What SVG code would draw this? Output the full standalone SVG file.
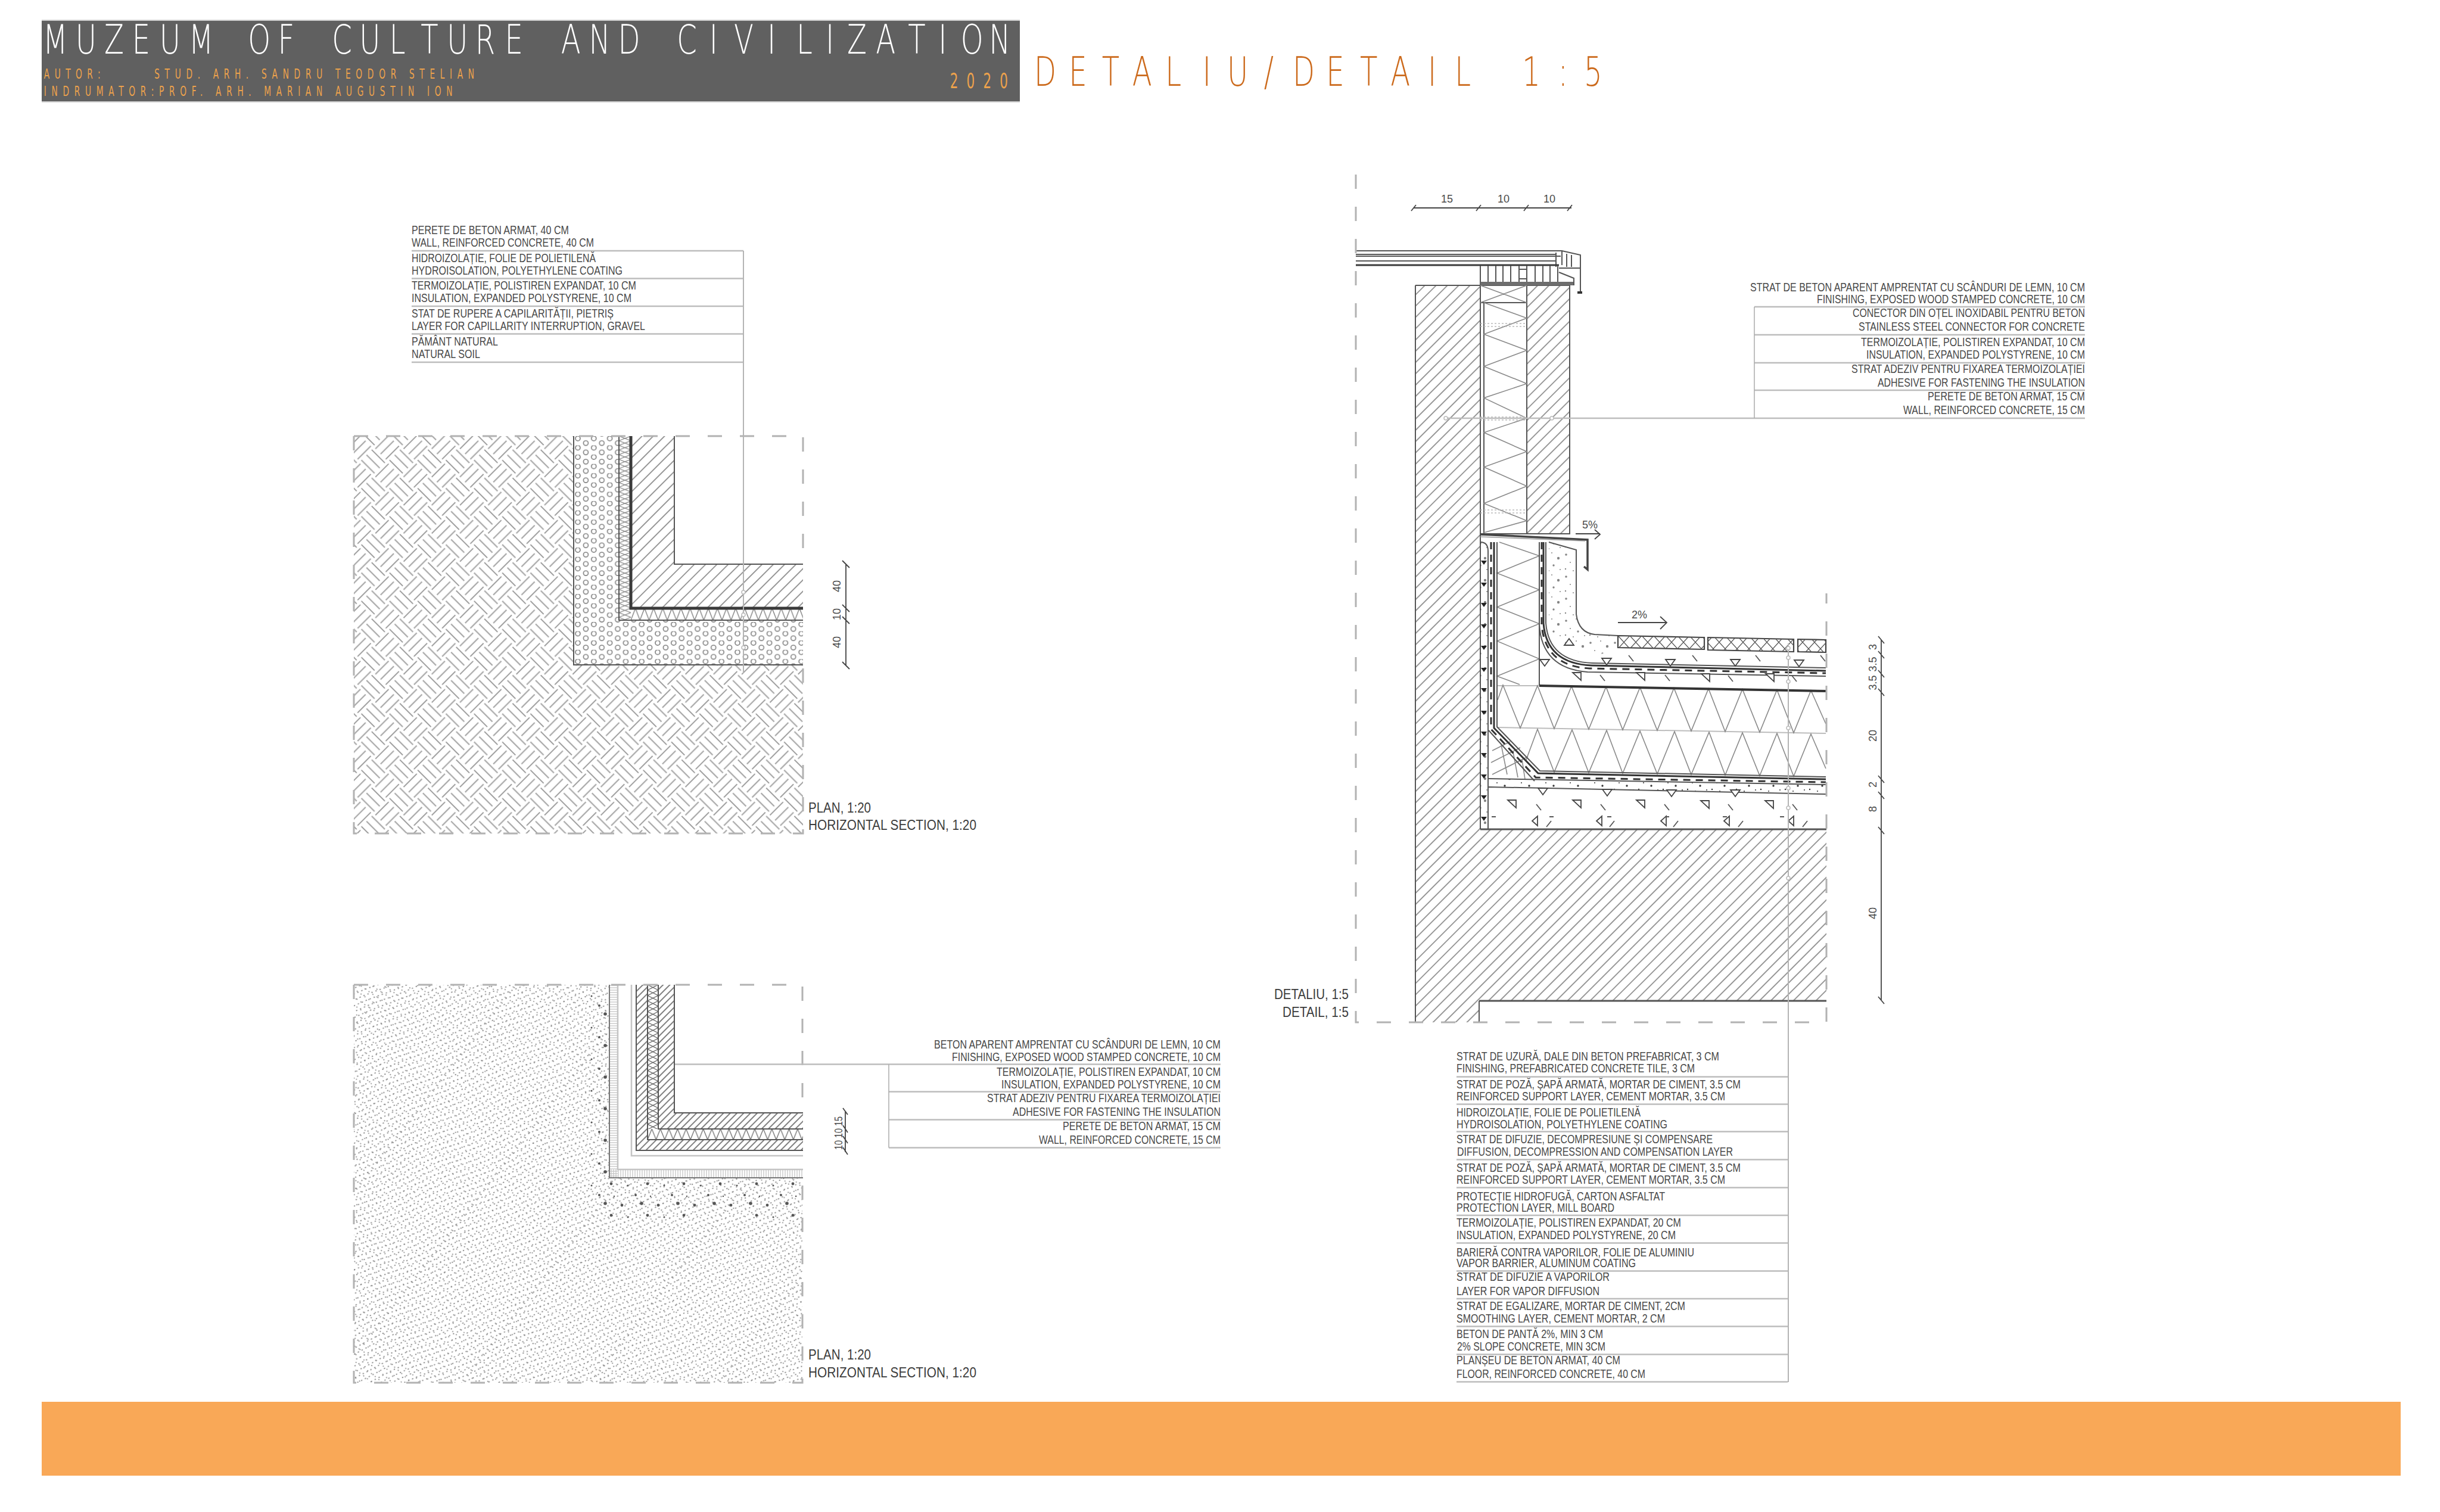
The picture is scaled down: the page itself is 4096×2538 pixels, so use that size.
<svg xmlns="http://www.w3.org/2000/svg" width="4096" height="2538" viewBox="0 0 4096 2538">
<style>
.t{font-family:"Liberation Sans",Arial,sans-serif;font-size:20px;fill:#484848}
.r{text-anchor:end}
.d{font-family:"Liberation Sans",Arial,sans-serif;font-size:18px;fill:#4a4a4a;text-anchor:middle}
.l{font-family:"Liberation Sans",Arial,sans-serif;font-size:23px;fill:#3c3c3c}
.hd{font-family:"DejaVu Sans",sans-serif;font-weight:200;font-size:67px}
.or{font-family:"DejaVu Sans",sans-serif;font-weight:400;fill:#eda24c}
.lead{stroke:#b4b4b4;stroke-width:2;fill:none}
.tab{stroke:#bdbdbd;stroke-width:2.5;fill:none}
.thin{stroke:#aaa;stroke-width:1.5;fill:none}
.frame{stroke:#b2b2b2;stroke-width:3;fill:none;stroke-dasharray:24 30}
.ln{stroke:#555;stroke-width:2;fill:none}
.hv{stroke:#555;stroke-width:3;fill:none}
.dl{stroke:#444;stroke-width:1.8;fill:none}
.gz{stroke:#8a8a8a;stroke-width:1.6;fill:none}
.dz{stroke:#666;stroke-width:1.5;fill:none}
.sym{stroke:#444;stroke-width:1.8;fill:#fff}
.tk{stroke:#555;stroke-width:1.8;fill:none}
.dsh{stroke:#333;stroke-width:3;fill:none;stroke-dasharray:12 9}
.dot{stroke:#bbb;stroke-width:1.5;fill:#fff}
</style>
<defs>
<pattern id="soil" width="66.9" height="66.9" patternUnits="userSpaceOnUse" patternTransform="translate(650 727.35) rotate(45)">
<path d="M4.4 1V32.4M16.7 1V32.4M29 1V32.4M37.9 34.5V65.9M50.2 34.5V65.9M62.5 34.5V65.9M34.5 4.4H65.9M34.5 16.7H65.9M34.5 29H65.9M1 37.9H32.4M1 50.2H32.4M1 62.5H32.4" stroke="#a0a0a0" stroke-width="2" fill="none"/>
</pattern>
<pattern id="gravel" width="26.8" height="15.6" patternUnits="userSpaceOnUse" patternTransform="translate(970 732)">
<g fill="none" stroke="#858585" stroke-width="1.7"><circle cx="0" cy="4" r="4"/><circle cx="26.8" cy="4" r="4"/><circle cx="13.4" cy="11.8" r="4"/><circle cx="13.4" cy="-3.8" r="4"/></g>
</pattern>
<pattern id="h13" width="13.4" height="13.4" patternUnits="userSpaceOnUse" patternTransform="rotate(-45)"><path d="M0 6.7H13.4" stroke="#787878" stroke-width="1.5"/></pattern>
<pattern id="h8" width="8" height="8" patternUnits="userSpaceOnUse" patternTransform="rotate(-45)"><path d="M0 4H8" stroke="#555" stroke-width="1.5"/></pattern>
<pattern id="zzv1" x="1039" y="732" width="20" height="15.6" patternUnits="userSpaceOnUse"><path d="M0 0L20 7.8L0 15.6M20 0L0 7.8L20 15.6" stroke="#888" stroke-width="1.3" fill="none"/></pattern>
<pattern id="zzh1" x="1059" y="1021" width="15.3" height="20" patternUnits="userSpaceOnUse"><path d="M0 20L7.65 0L15.3 20" stroke="#888" stroke-width="1.5" fill="none"/></pattern>
<pattern id="zzv2" x="1087" y="1653" width="18" height="18" patternUnits="userSpaceOnUse"><path d="M0 0L18 9L0 18M18 0L0 9L18 18" stroke="#666" stroke-width="1.3" fill="none"/></pattern>
<pattern id="zzh2" x="1087" y="1895" width="14.4" height="18" patternUnits="userSpaceOnUse"><path d="M0 18L7.2 0L14.4 18" stroke="#777" stroke-width="1.4" fill="none"/></pattern>
<pattern id="fh" width="4" height="4" patternUnits="userSpaceOnUse"><path d="M0 2H4" stroke="#c4c4c4" stroke-width="1.3"/></pattern>
<pattern id="fv" width="4" height="4" patternUnits="userSpaceOnUse"><path d="M2 0V4" stroke="#c4c4c4" stroke-width="1.3"/></pattern>
<pattern id="st1" width="180" height="81" patternUnits="userSpaceOnUse" patternTransform="rotate(-24)"><path d="M0 4Q45 0 90 4T180 4M0 13Q45 9 90 13T180 13M0 22Q45 18 90 22T180 22M0 31Q45 27 90 31T180 31M0 40Q45 36 90 40T180 40M0 49Q45 45 90 49T180 49M0 58Q45 54 90 58T180 58M0 67Q45 63 90 67T180 67M0 76Q45 72 90 76T180 76" stroke="#808080" stroke-width="1.7" stroke-dasharray="2.2 5" fill="none"/></pattern>
<pattern id="st2" width="170" height="99" patternUnits="userSpaceOnUse" patternTransform="rotate(38)"><path d="M0 5Q42 1 85 5T170 5M0 16Q42 12 85 16T170 16M0 27Q42 23 85 27T170 27M0 38Q42 34 85 38T170 38M0 49Q42 45 85 49T170 49M0 60Q42 56 85 60T170 60M0 71Q42 67 85 71T170 71M0 82Q42 78 85 82T170 82M0 93Q42 89 85 93T170 93" stroke="#888" stroke-width="1.6" stroke-dasharray="2 6" fill="none"/></pattern>
<pattern id="spk" width="61" height="53" patternUnits="userSpaceOnUse"><g fill="#555"><circle cx="7" cy="9" r="2.4"/><circle cx="40" cy="6" r="2.8"/><circle cx="17" cy="29" r="1.5"/><circle cx="50" cy="26" r="2.4"/><circle cx="30" cy="45" r="2"/><circle cx="55" cy="47" r="1.2"/></g></pattern>
<pattern id="spk2" width="41" height="37" patternUnits="userSpaceOnUse"><g fill="#333"><circle cx="5" cy="6" r="1.8"/><circle cx="22" cy="3" r="1"/><circle cx="33" cy="12" r="2.2"/><circle cx="12" cy="19" r="1"/><circle cx="25" cy="24" r="1.7"/><circle cx="4" cy="30" r="1.2"/><circle cx="36" cy="31" r="1"/><circle cx="17" cy="33" r="1"/></g></pattern>
<pattern id="tile" x="2716" y="1067" width="20" height="22" patternUnits="userSpaceOnUse"><path d="M0 0L20 22M20 0L0 22" stroke="#555" stroke-width="1.3"/></pattern>
<path id="tr" d="M-8 -5H8L0 6Z"/>
<path id="tq" d="M-8 -6H6L6 7Z"/>
<path id="tl" d="M4 -8V8L-5 0Z"/>
<path id="tick" d="M-4 -5L4 5"/>
<path id="tk2" d="M4 -5L-4 5"/>
<path id="bl" d="M-5 -3H5L0 4Z"/>
</defs>
<rect width="4096" height="2538" fill="#fff"/>

<g id="title-block">
<rect x="70" y="34" width="1642" height="137" fill="#606060"/>
<path d="M70 34H1712M70 171H1712" stroke="#cfcfcf" stroke-width="2"/>
<text class="hd" fill="#fff" transform="scale(.72 1)" y="90" x="100 176 243 308 372 440 514 578 648 694 774 838 908 981 1042 1108 1177 1208 1308 1373 1441 1514 1578 1654 1711 1789 1857 1925 1975 2042 2117 2188 2240 2306">MUZEUM OF CULTURE AND CIVILIZATION</text>
<text class="or" font-size="23" transform="scale(.6 1)" x="123" y="132" textLength="158" lengthAdjust="spacing">AUTOR:</text>
<text class="or" font-size="23" transform="scale(.6 1)" x="432" y="132" textLength="895" lengthAdjust="spacing">STUD. ARH. SANDRU TEODOR STELIAN</text>
<text class="or" font-size="23" transform="scale(.6 1)" x="123" y="161" textLength="1143" lengthAdjust="spacing">INDRUMATOR:PROF. ARH. MARIAN AUGUSTIN ION</text>
<text class="or" font-size="36" transform="scale(.6 1)" x="2658" y="148" textLength="162" lengthAdjust="spacing">2020</text>
</g>

<g id="heading">
<text class="hd" fill="#cc6a1c" transform="scale(.72 1)" y="144" x="2411 2492 2569 2640 2717 2804 2861 2947 3014 3092 3171 3242 3329 3392 3470 3549 3633 3693">DETALIU/DETAIL 1:5</text>
</g>

<g id="plan-1">
<rect x="594" y="732" width="754" height="667" fill="url(#soil)"/>
<rect x="963" y="732" width="385" height="384" fill="#fff"/>
<rect x="963" y="732" width="385" height="384" fill="url(#gravel)"/>
<path d="M1039 732H1348V1041H1039Z" fill="#fff"/>
<rect x="1039" y="732" width="20" height="309" fill="url(#zzv1)"/>
<rect x="1059" y="1021" width="289" height="20" fill="url(#zzh1)"/>
<path d="M1059 732H1132V947H1348V1021H1059Z" fill="url(#h13)"/>
<path class="ln" d="M963 732V1116H1348M1039 732V1041H1348M1132 732V947H1348"/>
<path d="M1059 732V1021H1348" stroke="#3a3a3a" stroke-width="5" fill="none"/>
<path class="frame" d="M594 732H1348V925M594 732V1399H1348V1116"/>
<path class="dl" d="M1420 947V1117M1414 941L1426 953M1414 1015L1426 1027M1414 1035L1426 1047M1414 1111L1426 1123"/>
<text class="d" transform="translate(1411 984) rotate(-90)">40</text>
<text class="d" transform="translate(1411 1031) rotate(-90)">10</text>
<text class="d" transform="translate(1411 1078) rotate(-90)">40</text>
<text class="l" x="1357" y="1364" textLength="105" lengthAdjust="spacingAndGlyphs">PLAN, 1:20</text>
<text class="l" x="1357" y="1393" textLength="282" lengthAdjust="spacingAndGlyphs">HORIZONTAL SECTION, 1:20</text>
</g>

<g id="plan-1-legend">
<path class="tab" d="M691 421H1248M691 467.500H1248M691 514H1248M691 560.500H1248M691 608H1248"/>
<text class="t" x="691" y="393" textLength="264" lengthAdjust="spacingAndGlyphs">PERETE DE BETON ARMAT, 40 CM</text>
<text class="t" x="691" y="414" textLength="306" lengthAdjust="spacingAndGlyphs">WALL, REINFORCED CONCRETE, 40 CM</text>
<text class="t" x="691" y="440" textLength="309" lengthAdjust="spacingAndGlyphs">HIDROIZOLAȚIE, FOLIE DE POLIETILENĂ</text>
<text class="t" x="691" y="461" textLength="354" lengthAdjust="spacingAndGlyphs">HYDROISOLATION, POLYETHYLENE COATING</text>
<text class="t" x="691" y="486" textLength="377" lengthAdjust="spacingAndGlyphs">TERMOIZOLAȚIE, POLISTIREN EXPANDAT, 10 CM</text>
<text class="t" x="691" y="507" textLength="369" lengthAdjust="spacingAndGlyphs">INSULATION, EXPANDED POLYSTYRENE, 10 CM</text>
<text class="t" x="691" y="533" textLength="339" lengthAdjust="spacingAndGlyphs">STAT DE RUPERE A CAPILARITĂȚII, PIETRIȘ</text>
<text class="t" x="691" y="554" textLength="392" lengthAdjust="spacingAndGlyphs">LAYER FOR CAPILLARITY INTERRUPTION, GRAVEL</text>
<text class="t" x="691" y="580" textLength="145" lengthAdjust="spacingAndGlyphs">PĂMÂNT NATURAL</text>
<text class="t" x="691" y="601" textLength="115" lengthAdjust="spacingAndGlyphs">NATURAL SOIL</text>
</g>

<g id="plan-2">
<path d="M594 1653H1022V1977H1347V2321H594Z" fill="url(#st1)"/>
<path d="M594 1653H1022V1977H1347V2321H594Z" fill="url(#st2)"/>
<path d="M985 1653H1022V1977H1347V2050L1200 2035L1030 2060L985 2020Z" fill="url(#spk)"/>
<rect x="1023" y="1653" width="14" height="324" fill="url(#fh)"/>
<rect x="1023" y="1963" width="325" height="14" fill="url(#fv)"/>
<path d="M1023 1653V1977H1348" stroke="#777" stroke-width="2" fill="none"/>
<path d="M1037 1653V1963H1348M1060 1653V1940H1348" stroke="#c4c4c4" stroke-width="2.5" fill="none"/>
<path d="M1068 1653H1132V1868H1348V1931H1068Z" fill="#fff"/>
<path d="M1068 1653H1087V1913H1348V1931H1068ZM1105 1653H1132V1868H1348V1895H1105Z" fill="url(#h8)"/>
<rect x="1087" y="1653" width="18" height="242" fill="url(#zzv2)"/>
<rect x="1087" y="1895" width="261" height="18" fill="url(#zzh2)"/>
<path class="ln" d="M1068 1653V1931H1348M1087 1653V1913H1348M1105 1653V1895H1348M1132 1653V1868H1348"/>
<path class="frame" d="M594 1653H1347V1868M594 1653V2321H1347V1977"/>
<path class="dl" d="M1419 1865V1934M1415 1860L1423 1871M1415 1889L1423 1901M1415 1907L1423 1919M1415 1926L1423 1938"/>
<text class="d" font-size="19" transform="translate(1414 1902) rotate(-90)" textLength="56" lengthAdjust="spacingAndGlyphs">10 10 15</text>
<text class="l" x="1357" y="2282" textLength="105" lengthAdjust="spacingAndGlyphs">PLAN, 1:20</text>
<text class="l" x="1357" y="2312" textLength="282" lengthAdjust="spacingAndGlyphs">HORIZONTAL SECTION, 1:20</text>
</g>

<g id="plan-2-legend" transform="translate(0 1.500)">
<path class="tab" d="M1133 1785H2049M1492 1831H2049M1492 1878H2049M1492 1925H2049"/>
<path class="thin" d="M1492 1785V1925"/>
<text class="t r" x="2049" y="1758" textLength="481" lengthAdjust="spacingAndGlyphs">BETON APARENT AMPRENTAT CU SCÂNDURI DE LEMN, 10 CM</text>
<text class="t r" x="2049" y="1779" textLength="451" lengthAdjust="spacingAndGlyphs">FINISHING, EXPOSED WOOD STAMPED CONCRETE, 10 CM</text>
<text class="t r" x="2049" y="1804" textLength="376" lengthAdjust="spacingAndGlyphs">TERMOIZOLAȚIE, POLISTIREN EXPANDAT, 10 CM</text>
<text class="t r" x="2049" y="1825" textLength="368" lengthAdjust="spacingAndGlyphs">INSULATION, EXPANDED POLYSTYRENE, 10 CM</text>
<text class="t r" x="2049" y="1848" textLength="392" lengthAdjust="spacingAndGlyphs">STRAT ADEZIV PENTRU FIXAREA TERMOIZOLAȚIEI</text>
<text class="t r" x="2049" y="1871" textLength="349" lengthAdjust="spacingAndGlyphs">ADHESIVE FOR FASTENING THE INSULATION</text>
<text class="t r" x="2049" y="1895" textLength="265" lengthAdjust="spacingAndGlyphs">PERETE DE BETON ARMAT, 15 CM</text>
<text class="t r" x="2049" y="1918" textLength="305" lengthAdjust="spacingAndGlyphs">WALL, REINFORCED CONCRETE, 15 CM</text>
</g>

<g id="detail">
<path d="M2376 479H2485V1392H3066V1680H2483V1716H2376Z" fill="url(#h13)"/>
<rect x="2563" y="479" width="72" height="417" fill="url(#h13)"/>
<path class="ln" d="M2376 479V1716M2376 479H2485V1392M2483 1680V1716M2485 479H2635V896H2485M2563 479V896M2491 508V896M2485 508H2563"/>
<path class="hv" d="M2485 1392H3066M2483 1680H3066"/>
<path class="gz" d="M2485 479L2563 508M2563 479L2485 508M2491 508L2563 534L2491 561L2563 588L2491 615L2563 644L2491 668L2563 702L2491 726L2563 758L2491 784L2563 816L2491 845L2563 874L2491 894"/>
<path class="dot" style="fill:none;stroke-dasharray:3 3" d="M2485 543H2563M2485 548H2563M2485 700H2563M2485 705H2563M2485 856H2563M2485 861H2563"/>
<path stroke="#555" stroke-width="2" fill="none" d="M2276 421H2622L2653 428V491M2276 427H2613M2276 430H2620M2276 438H2613M2612 424V448M2622 421V445M2630 426V448M2638 428V448M2617 450H2653"/>
<path d="M2276 445H2617" stroke="#3a3a3a" stroke-width="3"/>
<path d="M2648 491H2656" stroke="#333" stroke-width="4"/>
<path class="ln" d="M2485 446V479M2498 446V473M2511 446V473M2523 446V473M2536 446V473M2550 446V473M2563 446V473M2577 446V473M2590 446V473M2602 446V473M2615 446V473M2550 452H2563M2550 468H2563"/>
<path d="M2485 473H2642V479H2485Z" fill="#6e6e6e"/>
<path class="ln" d="M2617 457L2642 467V479"/>
<path class="dl" d="M2373 349H2638M2369 354L2377 344M2478 354L2486 344M2558 354L2566 344M2631 354L2639 344"/>
<text class="d" x="2429" y="340">15</text><text class="d" x="2524" y="340">10</text><text class="d" x="2601" y="340">10</text>
<path d="M2485 897L2665 906V956L2659 951" stroke="#444" stroke-width="3.500" fill="none"/>
<path d="M2485 901L2661 908" stroke="#999" stroke-width="1.500" fill="none"/>
<path class="dl" d="M2645 896H2686M2677 889L2686 897L2677 905"/>
<text class="d" x="2669" y="887">5%</text>
<rect x="2485" y="910" width="13" height="482" fill="url(#spk2)" opacity=".6"/>
<g class="sym" style="fill:#222;stroke:none"><use href="#bl" x="2491" y="944"/><use href="#bl" x="2491" y="981"/><use href="#bl" x="2491" y="1015"/><use href="#bl" x="2491" y="1051"/><use href="#bl" x="2491" y="1087"/><use href="#bl" x="2491" y="1124"/><use href="#bl" x="2491" y="1158"/><use href="#bl" x="2491" y="1196"/><use href="#bl" x="2491" y="1231"/><use href="#bl" x="2491" y="1267"/><use href="#bl" x="2491" y="1303"/><use href="#bl" x="2491" y="1338"/><use href="#bl" x="2491" y="1374"/></g>
<path class="ln" d="M2485 910Q2498 910 2498 925V1392"/>
<path class="gz" d="M2517 910L2584 933L2513 962L2584 990L2513 1019L2584 1047L2513 1076L2584 1106L2513 1135L2551 1149"/>
<path class="gz" d="M2505 1260L2535 1245M2503 1280L2552 1255M2505 1300L2565 1270M2520 1250L2530 1300M2540 1262L2548 1305M2555 1275L2560 1308"/>
<path d="M2600 910L2646 923V1031Q2650 1062 2677 1065L2716 1067V1090L2680 1100Q2610 1096 2600 1046Z" fill="url(#spk2)" opacity=".6"/>
<path class="ln" d="M2600 910L2646 923V1031Q2650 1062 2677 1065L2716 1067"/>
<path d="M2513 1151H2584M2513 1221L3065 1231" stroke="#bdbdbd" stroke-width="2" fill="none"/>
<path class="ln" d="M2584 910V1150"/>
<path class="gz" d="M2514 1175L2523 1150L2552 1222L2581 1151L2609 1223L2638 1152L2667 1224L2696 1153L2724 1225L2753 1154L2782 1226L2810 1155L2839 1227L2868 1156L2896 1228L2925 1157L2954 1229L2983 1158L3011 1230L3040 1159L3065 1215"/>
<path class="gz" d="M2561 1278L2581 1224L2609 1296L2639 1225L2667 1297L2697 1226L2724 1298L2753 1227L2782 1299L2811 1228L2839 1300L2869 1229L2896 1301L2925 1230L2954 1302L2983 1231L3011 1303L3040 1232L3065 1290"/>
<path d="M2584 1151L3065 1160" stroke="#333" stroke-width="4" fill="none"/>
<path class="ln" d="M2595 910V1046Q2600 1110 2673 1113L3065 1121"/>
<path d="M2591 910V1046Q2596 1114 2672 1117L3065 1126" stroke="#333" stroke-width="3" fill="none"/>
<path class="dsh" d="M2588 910V1048Q2593 1118 2668 1122L3065 1130"/>
<path class="ln" d="M2584 1048Q2588 1122 2665 1128L3065 1135"/>
<path class="ln" d="M2513 910V1220L2585 1294L3065 1304"/>
<path d="M2508 910V1222L2582 1298L3065 1308" stroke="#333" stroke-width="3" fill="none"/>
<path class="dsh" d="M2503 910V1224L2578 1305L3065 1313"/>
<path class="ln" d="M2499 1226L2576 1311"/>
<path d="M2499 1307L3065 1317V1333L2499 1321Z" fill="url(#spk2)"/>
<path class="ln" d="M2499 1307L3065 1317M2499 1321L3065 1333M2498 1321V1392"/>
<g fill="#fff" stroke="#444" stroke-width="2.200"><path d="M2716 1067L2861 1070V1090L2716 1087Z"/><path d="M2867 1070L3011 1073V1094L2867 1091Z"/><path d="M3018 1073L3065 1074V1095L3018 1094Z"/></g>
<g fill="url(#tile)"><path d="M2716 1067L2861 1070V1090L2716 1087Z"/><path d="M2867 1070L3011 1073V1094L2867 1091Z"/><path d="M3018 1073L3065 1074V1095L3018 1094Z"/></g>
<g class="sym"><use href="#tr" x="2593" y="1112"/><use href="#tr" x="2697" y="1110"/><use href="#tr" x="2804" y="1112"/><use href="#tr" x="2913" y="1112"/><use href="#tr" x="3020" y="1113"/><use href="#tr" transform="translate(2634 1078) rotate(180)"/>
<use href="#tq" x="2648" y="1135"/><use href="#tq" x="2755" y="1135"/><use href="#tq" x="2864" y="1137"/><use href="#tq" x="2972" y="1137"/>
<use href="#tr" x="2590" y="1328"/><use href="#tr" x="2698" y="1330"/><use href="#tr" x="2806" y="1331"/><use href="#tr" x="2913" y="1331"/>
<use href="#tq" x="2539" y="1349"/><use href="#tq" x="2648" y="1349"/><use href="#tq" x="2755" y="1349"/><use href="#tq" x="2863" y="1350"/><use href="#tq" x="2971" y="1350"/>
<use href="#tl" x="2577" y="1378"/><use href="#tl" x="2685" y="1378"/><use href="#tl" x="2793" y="1378"/><use href="#tl" x="2899" y="1378"/><use href="#tl" x="3007" y="1378"/></g>
<g class="tk"><use href="#tick" x="2690" y="1138"/><use href="#tick" x="2799" y="1138"/><use href="#tick" x="2905" y="1139"/><use href="#tick" x="3012" y="1139"/><use href="#tick" x="2738" y="1105"/><use href="#tick" x="2845" y="1105"/><use href="#tick" x="2951" y="1105"/><use href="#tick" x="3060" y="1105"/>
<use href="#tick" x="2583" y="1355"/><use href="#tick" x="2691" y="1355"/><use href="#tick" x="2798" y="1355"/><use href="#tick" x="2905" y="1355"/><use href="#tick" x="3013" y="1355"/>
<use href="#tk2" x="2600" y="1383"/><use href="#tk2" x="2706" y="1383"/><use href="#tk2" x="2813" y="1383"/><use href="#tk2" x="2922" y="1383"/><use href="#tk2" x="3030" y="1383"/>
<path d="M2504 1371h7M2601 1371h7M2698 1371h7M2795 1371h7M2892 1371h7M2988 1371h7"/></g>
<path class="dl" d="M2716 1045H2798M2787 1035L2798 1045L2787 1056"/>
<text class="d" x="2752" y="1038">2%</text>
<path class="frame" d="M2276 293V1716H3066V996"/>
<path class="dl" d="M3158 1074V1679M3153 1068L3163 1080M3153 1093L3163 1105M3153 1125L3163 1137M3153 1156L3163 1168M3153 1302L3163 1314M3153 1329L3163 1341M3153 1388L3163 1400M3153 1673L3163 1685"/>
<text class="d" transform="translate(3150 1086) rotate(-90)">3</text>
<text class="d" transform="translate(3150 1115) rotate(-90)">3.5</text>
<text class="d" transform="translate(3150 1146) rotate(-90)">3.5</text>
<text class="d" transform="translate(3150 1235) rotate(-90)">20</text>
<text class="d" transform="translate(3150 1317) rotate(-90)">2</text>
<text class="d" transform="translate(3150 1358) rotate(-90)">8</text>
<text class="d" transform="translate(3150 1533) rotate(-90)">40</text>
<text class="l" style="text-anchor:end" x="2264" y="1677" textLength="125" lengthAdjust="spacingAndGlyphs">DETALIU, 1:5</text>
<text class="l" style="text-anchor:end" x="2264" y="1707" textLength="111" lengthAdjust="spacingAndGlyphs">DETAIL, 1:5</text>
</g>

<g id="detail-legend-wall">
<path class="tab" d="M2945 515H3500M2945 562H3500M2945 609H3500M2945 655H3500M2427 702H3500"/>
<path class="thin" d="M2945 515V702"/>
<text class="t r" x="3500" y="489" textLength="562" lengthAdjust="spacingAndGlyphs">STRAT DE BETON APARENT AMPRENTAT CU SCÂNDURI DE LEMN, 10 CM</text>
<text class="t r" x="3500" y="509" textLength="450" lengthAdjust="spacingAndGlyphs">FINISHING, EXPOSED WOOD STAMPED CONCRETE, 10 CM</text>
<text class="t r" x="3500" y="532" textLength="390" lengthAdjust="spacingAndGlyphs">CONECTOR DIN OȚEL INOXIDABIL PENTRU BETON</text>
<text class="t r" x="3500" y="555" textLength="380" lengthAdjust="spacingAndGlyphs">STAINLESS STEEL CONNECTOR FOR CONCRETE</text>
<text class="t r" x="3500" y="581" textLength="376" lengthAdjust="spacingAndGlyphs">TERMOIZOLAȚIE, POLISTIREN EXPANDAT, 10 CM</text>
<text class="t r" x="3500" y="602" textLength="367" lengthAdjust="spacingAndGlyphs">INSULATION, EXPANDED POLYSTYRENE, 10 CM</text>
<text class="t r" x="3500" y="626" textLength="392" lengthAdjust="spacingAndGlyphs">STRAT ADEZIV PENTRU FIXAREA TERMOIZOLAȚIEI</text>
<text class="t r" x="3500" y="649" textLength="348" lengthAdjust="spacingAndGlyphs">ADHESIVE FOR FASTENING THE INSULATION</text>
<text class="t r" x="3500" y="672" textLength="264" lengthAdjust="spacingAndGlyphs">PERETE DE BETON ARMAT, 15 CM</text>
<text class="t r" x="3500" y="695" textLength="305" lengthAdjust="spacingAndGlyphs">WALL, REINFORCED CONCRETE, 15 CM</text>
</g>

<g id="detail-legend-floor" transform="translate(0 1.500)">
<path class="tab" d="M2445 1806H3001M2445 1852H3001M2445 1898H3001M2445 1945H3001M2445 1992H3001M2445 2038.500H3001M2445 2085H3001M2445 2132H3001M2445 2178.500H3001M2445 2225H3001M2445 2272H3001M2445 2318H3001"/>
<text class="t" x="2445" y="1778" textLength="441" lengthAdjust="spacingAndGlyphs">STRAT DE UZURĂ, DALE DIN BETON PREFABRICAT, 3 CM</text>
<text class="t" x="2445" y="1798" textLength="400" lengthAdjust="spacingAndGlyphs">FINISHING, PREFABRICATED CONCRETE TILE, 3 CM</text>
<text class="t" x="2445" y="1825" textLength="477" lengthAdjust="spacingAndGlyphs">STRAT DE POZĂ, ȘAPĂ ARMATĂ, MORTAR DE CIMENT, 3.5 CM</text>
<text class="t" x="2445" y="1845" textLength="451" lengthAdjust="spacingAndGlyphs">REINFORCED SUPPORT LAYER, CEMENT MORTAR, 3.5 CM</text>
<text class="t" x="2445" y="1872" textLength="309" lengthAdjust="spacingAndGlyphs">HIDROIZOLAȚIE, FOLIE DE POLIETILENĂ</text>
<text class="t" x="2445" y="1892" textLength="354" lengthAdjust="spacingAndGlyphs">HYDROISOLATION, POLYETHYLENE COATING</text>
<text class="t" x="2445" y="1917" textLength="430" lengthAdjust="spacingAndGlyphs">STRAT DE DIFUZIE, DECOMPRESIUNE ȘI COMPENSARE</text>
<text class="t" x="2446" y="1938" textLength="463" lengthAdjust="spacingAndGlyphs">DIFFUSION, DECOMPRESSION AND COMPENSATION LAYER</text>
<text class="t" x="2445" y="1965" textLength="477" lengthAdjust="spacingAndGlyphs">STRAT DE POZĂ, ȘAPĂ ARMATĂ, MORTAR DE CIMENT, 3.5 CM</text>
<text class="t" x="2445" y="1985" textLength="451" lengthAdjust="spacingAndGlyphs">REINFORCED SUPPORT LAYER, CEMENT MORTAR, 3.5 CM</text>
<text class="t" x="2445" y="2013" textLength="350" lengthAdjust="spacingAndGlyphs">PROTECȚIE HIDROFUGĂ, CARTON ASFALTAT</text>
<text class="t" x="2445" y="2032" textLength="265" lengthAdjust="spacingAndGlyphs">PROTECTION LAYER, MILL BOARD</text>
<text class="t" x="2445" y="2057" textLength="377" lengthAdjust="spacingAndGlyphs">TERMOIZOLAȚIE, POLISTIREN EXPANDAT, 20 CM</text>
<text class="t" x="2445" y="2078" textLength="368" lengthAdjust="spacingAndGlyphs">INSULATION, EXPANDED POLYSTYRENE, 20 CM</text>
<text class="t" x="2445" y="2107" textLength="399" lengthAdjust="spacingAndGlyphs">BARIERĂ CONTRA VAPORILOR, FOLIE DE ALUMINIU</text>
<text class="t" x="2445" y="2125" textLength="301" lengthAdjust="spacingAndGlyphs">VAPOR BARRIER, ALUMINUM COATING</text>
<text class="t" x="2445" y="2148" textLength="257" lengthAdjust="spacingAndGlyphs">STRAT DE DIFUZIE A VAPORILOR</text>
<text class="t" x="2445" y="2172" textLength="240" lengthAdjust="spacingAndGlyphs">LAYER FOR VAPOR DIFFUSION</text>
<text class="t" x="2445" y="2197" textLength="384" lengthAdjust="spacingAndGlyphs">STRAT DE EGALIZARE, MORTAR DE CIMENT, 2CM</text>
<text class="t" x="2445" y="2218" textLength="350" lengthAdjust="spacingAndGlyphs">SMOOTHING LAYER, CEMENT MORTAR, 2 CM</text>
<text class="t" x="2445" y="2244" textLength="246" lengthAdjust="spacingAndGlyphs">BETON DE PANTĂ 2%, MIN 3 CM</text>
<text class="t" x="2446" y="2265" textLength="249" lengthAdjust="spacingAndGlyphs">2% SLOPE CONCRETE, MIN 3CM</text>
<text class="t" x="2445" y="2288" textLength="275" lengthAdjust="spacingAndGlyphs">PLANȘEU DE BETON ARMAT, 40 CM</text>
<text class="t" x="2445" y="2311" textLength="317" lengthAdjust="spacingAndGlyphs">FLOOR, REINFORCED CONCRETE, 40 CM</text>
</g>

<g id="connectors">
<path class="lead" d="M1248 421V1130"/>
<path class="lead" d="M3002 1080V2320"/>
<g class="dot"><circle cx="1248" cy="994" r="3"/><circle cx="1248" cy="1032" r="3"/><circle cx="1248" cy="1087" r="3"/><circle cx="3002" cy="1088" r="3"/><circle cx="3002" cy="1104" r="3"/><circle cx="3002" cy="1144" r="3"/><circle cx="3002" cy="1222" r="3"/><circle cx="3002" cy="1323" r="3"/><circle cx="3002" cy="1356" r="3"/><circle cx="3002" cy="1474" r="3"/><circle cx="2427" cy="702" r="3"/><circle cx="2605" cy="702" r="3"/></g>
</g>

<rect id="footer-band" x="70" y="2353" width="3960" height="124" fill="#f9a857"/>
</svg>
